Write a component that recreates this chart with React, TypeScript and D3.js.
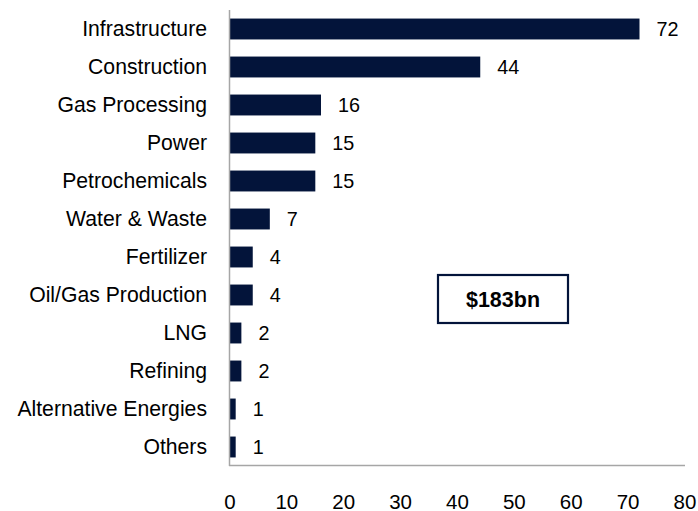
import React from "react";
import * as d3 from "d3";

const categories = [
  "Infrastructure",
  "Construction",
  "Gas Processing",
  "Power",
  "Petrochemicals",
  "Water & Waste",
  "Fertilizer",
  "Oil/Gas Production",
  "LNG",
  "Refining",
  "Alternative Energies",
  "Others",
];
const values = [72, 44, 16, 15, 15, 7, 4, 4, 2, 2, 1, 1];
const xTicks = [0, 10, 20, 30, 40, 50, 60, 70, 80];
const totalLabel = "$183bn";

const W = 698;
const H = 511;
const BAR = "#03143a";
const AXIS = "#a6a6a6";
const FONT = "'Liberation Sans', Arial, sans-serif";

export default function App() {
  const x = d3.scaleLinear().domain([0, 80]).range([230, 685]);
  const y = d3
    .scaleBand<string>()
    .domain(categories)
    .range([10, 466])
    .paddingInner(0.45)
    .paddingOuter(0.225);

  return (
    <svg
      width={W}
      height={H}
      style={{ position: "absolute", left: 0, top: 0, background: "#fff" }}
      fontFamily={FONT}
    >
      {categories.map((c, i) => {
        const yy = y(c)!;
        const cy = yy + y.bandwidth() / 2;
        return (
          <g key={c}>
            <rect
              x={x(0)}
              y={yy}
              width={x(values[i]) - x(0)}
              height={y.bandwidth()}
              fill={BAR}
            />
            <text
              x={207}
              y={cy}
              dy="0.35em"
              textAnchor="end"
              fontSize={21.2}
              fill="#000"
            >
              {c}
            </text>
            <text
              x={x(values[i]) + 17}
              y={cy}
              dy="0.35em"
              fontSize={19.8}
              fill="#000"
            >
              {values[i]}
            </text>
          </g>
        );
      })}
      <line x1={x(0) - 0.5} x2={x(0) - 0.5} y1={10} y2={466} stroke={AXIS} strokeWidth={1.5} />
      <line x1={x(0) - 1} x2={x(80)} y1={465.5} y2={465.5} stroke={AXIS} strokeWidth={1.5} />
      {xTicks.map((t) => (
        <text
          key={t}
          x={x(t)}
          y={509}
          textAnchor="middle"
          fontSize={20.5}
          fill="#000"
        >
          {t}
        </text>
      ))}
      <rect x={438} y={275} width={130} height={48} fill="#fff" stroke={BAR} strokeWidth={2.2} />
      <text
        x={503}
        y={299}
        dy="0.35em"
        textAnchor="middle"
        fontSize={21.5}
        fontWeight="bold"
        fill="#000"
      >
        {totalLabel}
      </text>
    </svg>
  );
}
